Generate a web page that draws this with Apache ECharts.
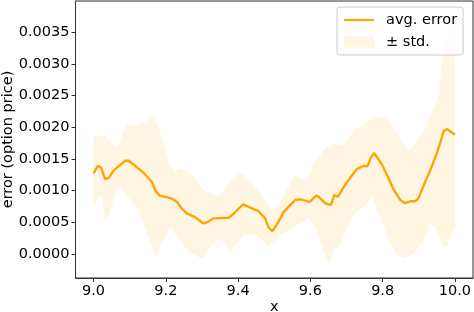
<!DOCTYPE html>
<html>
<head>
<meta charset="utf-8">
<script src="https://cdn.jsdelivr.net/npm/echarts@6/dist/echarts.min.js"></script>
<style>html,body{margin:0;padding:0;background:#fff;}#c{width:474px;height:312px;}</style>
</head>
<body>
<div id="c"></div>
<script>
// average error line
const meanX = [9.000,9.012,9.021,9.032,9.042,9.055,9.069,9.088,9.097,9.115,9.138,9.162,9.172,9.183,9.200,9.217,9.231,9.245,9.258,9.281,9.304,9.314,9.332,9.374,9.387,9.413,9.434,9.457,9.475,9.484,9.495,9.507,9.526,9.544,9.558,9.572,9.598,9.616,9.623,9.641,9.657,9.666,9.676,9.696,9.710,9.729,9.747,9.758,9.768,9.777,9.798,9.815,9.830,9.849,9.862,9.876,9.890,9.899,9.918,9.936,9.950,9.959,9.969,9.978,10.000];
const meanY = [0.00127,0.00139,0.00136,0.00118,0.00120,0.00131,0.00138,0.00147,0.00147,0.00139,0.00128,0.00113,0.00099,0.00092,0.00090,0.00087,0.00082,0.00071,0.00064,0.00058,0.00048,0.00050,0.00056,0.00057,0.00063,0.00078,0.00073,0.00067,0.00056,0.00042,0.00036,0.00046,0.00066,0.00077,0.00085,0.00086,0.00082,0.00092,0.00090,0.00080,0.00077,0.00093,0.00090,0.00109,0.00120,0.00134,0.00139,0.00138,0.00153,0.00159,0.00141,0.00121,0.00102,0.00085,0.00080,0.00083,0.00083,0.00088,0.00114,0.00138,0.00159,0.00175,0.00194,0.00197,0.00188];
// upper edge of the ± std. band
const upperX = [9.000,9.014,9.032,9.058,9.069,9.090,9.113,9.140,9.166,9.175,9.194,9.212,9.226,9.242,9.277,9.304,9.341,9.355,9.387,9.411,9.452,9.480,9.494,9.507,9.517,9.558,9.588,9.615,9.643,9.662,9.683,9.696,9.724,9.747,9.777,9.793,9.807,9.830,9.867,9.881,9.913,9.950,9.964,9.978,9.992,10.000];
const upperY = [0.00188,0.00185,0.00188,0.00169,0.00173,0.00203,0.00203,0.00208,0.00216,0.00207,0.00175,0.00140,0.00130,0.00135,0.00122,0.00101,0.00090,0.00096,0.00120,0.00128,0.00104,0.00080,0.00067,0.00072,0.00083,0.00125,0.00113,0.00147,0.00168,0.00174,0.00171,0.00175,0.00197,0.00202,0.00218,0.00216,0.00217,0.00198,0.00164,0.00167,0.00193,0.00243,0.00296,0.00349,0.00380,0.00380];
// lower edge of the ± std. band
const lowerX = [9.000,9.014,9.023,9.032,9.042,9.065,9.074,9.102,9.125,9.148,9.171,9.189,9.212,9.231,9.263,9.300,9.341,9.359,9.380,9.415,9.452,9.484,9.498,9.517,9.549,9.595,9.612,9.623,9.650,9.669,9.678,9.715,9.747,9.757,9.770,9.793,9.816,9.840,9.858,9.885,9.913,9.932,9.945,9.964,9.978,10.000];
const lowerY = [0.00070,0.00093,0.00090,0.00050,0.00059,0.00106,0.00105,0.00085,0.00067,0.00033,-0.00007,0.00017,0.00043,0.00027,0.00004,-0.00008,0.00024,0.00020,0.00005,0.00030,0.00030,0.00012,0.00019,0.00030,0.00041,0.00056,0.00045,0.00027,-0.00017,0.00012,0.00009,0.00059,0.00075,0.00080,0.00093,0.00059,0.00022,-0.00002,-0.00007,0.00001,0.00020,0.00046,0.00044,0.00014,0.00012,0.00045];
// tick labels
const xTicks = [9.0,9.2,9.4,9.6,9.8,10.0];
const yTicks = [0.0000,0.0005,0.0010,0.0015,0.0020,0.0025,0.0030,0.0035];

const lineColor = '#ffa500';
const bandColor = 'rgba(255,165,0,0.11)';
const FS = 14.5;
const FONT = 'DejaVu Sans';

const chart = echarts.init(document.getElementById('c'), null, {renderer:'canvas'});
chart.setOption({
  animation:false,
  backgroundColor:'#fff',
  textStyle:{fontFamily:FONT},
  grid:{left:75.5,right:1,top:1,bottom:34,containLabel:false,outerBoundsMode:'none',show:true,borderColor:'#333',borderWidth:1,backgroundColor:'transparent'},
  xAxis:{
    type:'value',min:8.95,max:10.05,
    name:'x',nameLocation:'middle',nameGap:22,nameMoveOverlap:false,
    nameTextStyle:{fontSize:FS,color:'#000',fontFamily:FONT},
    axisLine:{show:true,onZero:false,lineStyle:{color:'#333',width:1}},
    axisTick:{show:true,length:4,inside:false,customValues:xTicks,lineStyle:{color:'#333'}},
    axisLabel:{margin:6,fontSize:FS,color:'#000',fontFamily:FONT,customValues:xTicks,formatter:v=>v.toFixed(1)},
    splitLine:{show:false}
  },
  yAxis:{
    type:'value',min:-0.00038,max:0.00399,
    name:'error (option price)',nameLocation:'middle',nameGap:59.5,nameRotate:90,nameMoveOverlap:false,
    nameTextStyle:{fontSize:FS,color:'#000',fontFamily:FONT},
    axisLine:{show:true,onZero:false,lineStyle:{color:'#333',width:1}},
    axisTick:{show:true,length:4,inside:false,customValues:yTicks,lineStyle:{color:'#333'}},
    axisLabel:{margin:6,fontSize:FS,color:'#000',fontFamily:FONT,customValues:yTicks,formatter:v=>v.toFixed(4)},
    splitLine:{show:false}
  },
  legend:{
    orient:'vertical',left:337,top:7,
    padding:[5,6,5,6],itemGap:6,itemWidth:30,itemHeight:11,
    backgroundColor:'rgba(255,255,255,0.8)',borderColor:'#ccc',borderWidth:1,borderRadius:3,
    textStyle:{fontSize:FS,color:'#000',fontFamily:FONT,lineHeight:16,padding:[0,0,0,7]},
    data:[
      {name:'avg. error',itemStyle:{color:'rgba(0,0,0,0)',borderWidth:0,borderColor:'rgba(0,0,0,0)'},lineStyle:{color:lineColor,width:2.2}},
      {name:'± std.',icon:'rect',itemStyle:{color:bandColor}}
    ]
  },
  series:[
    {
      type:'custom',name:'± std.',silent:true,z:1,
      itemStyle:{color:bandColor},
      data:[[9.5,0.001]],
      renderItem:function(params,api){
        const pts=[];
        for(let i=0;i<upperX.length;i++) pts.push(api.coord([upperX[i],upperY[i]]));
        for(let i=lowerX.length-1;i>=0;i--) pts.push(api.coord([lowerX[i],lowerY[i]]));
        return {type:'polygon',shape:{points:pts},style:{fill:bandColor,stroke:null}};
      }
    },
    {
      type:'line',name:'avg. error',z:3,
      data:meanX.map((x,i)=>[x,meanY[i]]),
      symbol:'none',showSymbol:false,
      lineStyle:{color:lineColor,width:2.4},
      itemStyle:{color:lineColor}
    }
  ]
});
</script>
</body>
</html>
